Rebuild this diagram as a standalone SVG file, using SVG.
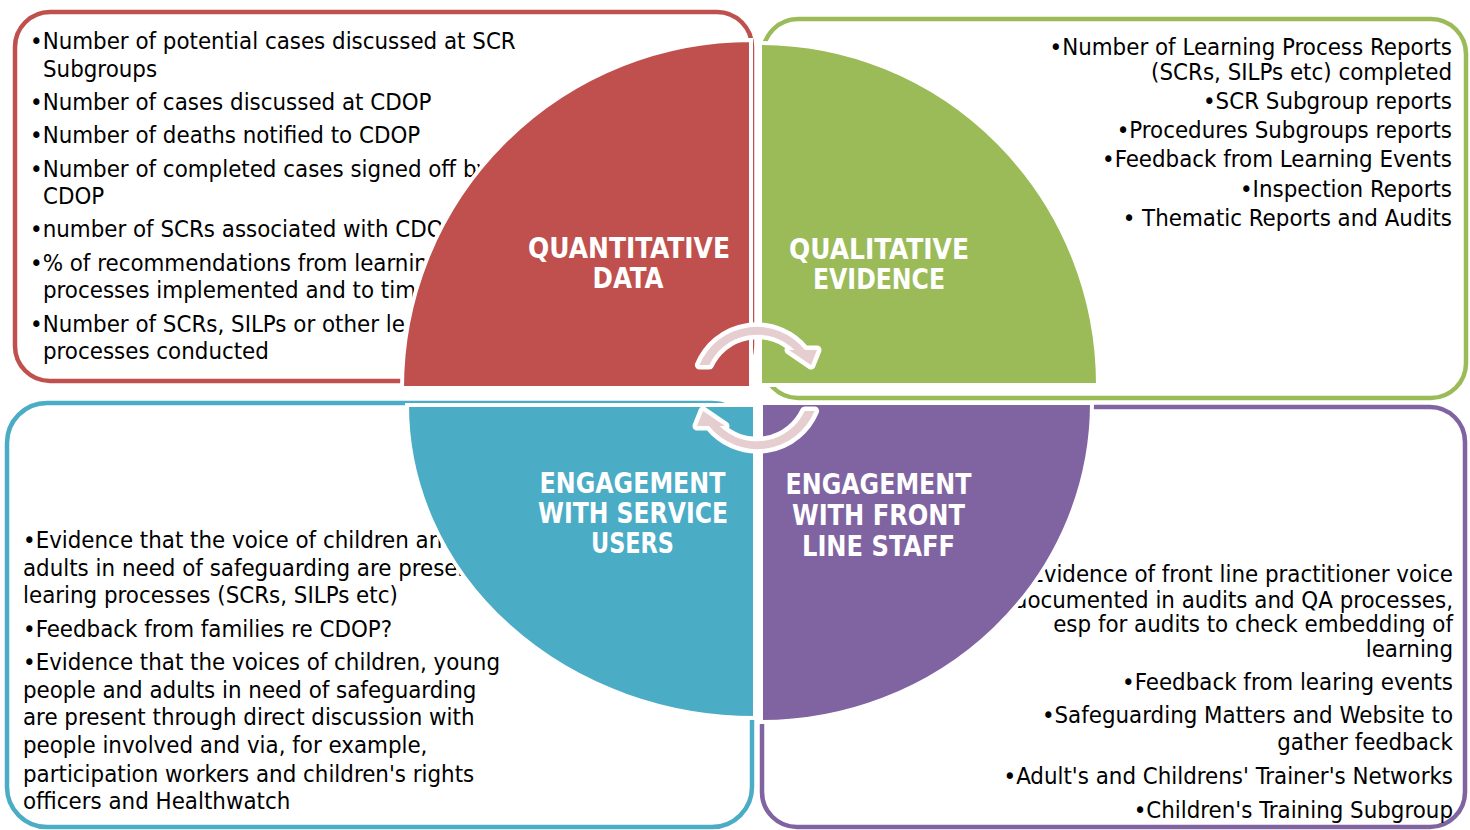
<svg xmlns="http://www.w3.org/2000/svg" width="1470" height="830" viewBox="0 0 1470 830">
<style>
.box{fill:#fff;stroke-width:4.5}
.body{font-family:'DejaVu Sans Condensed','DejaVu Sans',sans-serif;font-stretch:condensed;font-size:23.8px;fill:#000}
.end{text-anchor:end}
.head{font-family:'DejaVu Sans Condensed','DejaVu Sans',sans-serif;font-stretch:condensed;font-weight:bold;font-size:28px;fill:#fff;text-anchor:middle}
.q{stroke:#fff;stroke-width:4;stroke-linejoin:miter}
.arrow{fill:#E6CDD0;stroke:#fff;stroke-width:9;paint-order:stroke;stroke-linejoin:round}
</style>
<rect width="1470" height="830" fill="#fff"/>

<g id="node-quantitative">
  <rect class="box" x="15" y="12" width="737" height="369" rx="35" stroke="#C0504D"/>
  <g class="body">
    <text x="30" y="49">•Number of potential cases discussed at SCR</text>
    <text x="43" y="77">Subgroups</text>
    <text x="30" y="110">•Number of cases discussed at CDOP</text>
    <text x="30" y="143">•Number of deaths notified to CDOP</text>
    <text x="30" y="177">•Number of completed cases signed off by</text>
    <text x="43" y="204">CDOP</text>
    <text x="30" y="237">•number of SCRs associated with CDOP</text>
    <text x="30" y="271">•% of recommendations from learning</text>
    <text x="43" y="298">processes implemented and to timescale</text>
    <text x="30" y="332">•Number of SCRs, SILPs or other learning</text>
    <text x="43" y="359">processes conducted</text>
  </g>
  <path class="q" fill="#C0504D" d="M751 388 L402 388 A349 348 0 0 1 751 40 Z"/>
  <text class="head" x="629" y="258" textLength="202" lengthAdjust="spacingAndGlyphs">QUANTITATIVE</text>
  <text class="head" x="628" y="288" textLength="71" lengthAdjust="spacingAndGlyphs">DATA</text>
</g>

<g id="node-qualitative">
  <rect class="box" x="763" y="19" width="703" height="379" rx="35" stroke="#9BBB59"/>
  <g class="body end">
    <text x="1452" y="55">•Number of Learning Process Reports</text>
    <text x="1452" y="80">(SCRs, SILPs etc) completed</text>
    <text x="1452" y="109">•SCR Subgroup reports</text>
    <text x="1452" y="138">•Procedures Subgroups reports</text>
    <text x="1452" y="167">•Feedback from Learning Events</text>
    <text x="1452" y="197">•Inspection Reports</text>
    <text x="1452" y="226">• Thematic Reports and Audits</text>
  </g>
  <path class="q" fill="#9BBB59" d="M760 385 L760 43 A338 342 0 0 1 1098 385 Z"/>
  <text class="head" x="879" y="259" textLength="180" lengthAdjust="spacingAndGlyphs">QUALITATIVE</text>
  <text class="head" x="879" y="289" textLength="132" lengthAdjust="spacingAndGlyphs">EVIDENCE</text>
</g>

<g id="node-service-users">
  <rect class="box" x="7" y="403" width="745" height="424" rx="40" stroke="#4BACC6"/>
  <g class="body">
    <text x="23" y="548">•Evidence that the voice of children and</text>
    <text x="23" y="576">adults in need of safeguarding are present in</text>
    <text x="23" y="603">learing processes (SCRs, SILPs etc)</text>
    <text x="23" y="637">•Feedback from families re CDOP?</text>
    <text x="23" y="670">•Evidence that the voices of children, young</text>
    <text x="23" y="698">people and adults in need of safeguarding</text>
    <text x="23" y="725">are present through direct discussion with</text>
    <text x="23" y="753">people involved and via, for example,</text>
    <text x="23" y="782">participation workers and children's rights</text>
    <text x="23" y="809">officers and Healthwatch</text>
  </g>
  <path class="q" fill="#4BACC6" d="M755 405 L755 718 A348 313 0 0 1 407 405 Z"/>
  <text class="head" x="632.5" y="493" textLength="186" lengthAdjust="spacingAndGlyphs">ENGAGEMENT</text>
  <text class="head" x="633" y="523" textLength="190" lengthAdjust="spacingAndGlyphs">WITH SERVICE</text>
  <text class="head" x="632.5" y="553" textLength="83" lengthAdjust="spacingAndGlyphs">USERS</text>
</g>

<g id="node-front-line-staff">
  <rect class="box" x="762" y="407" width="703" height="420" rx="35" stroke="#8064A2"/>
  <g class="body end">
    <text x="1453" y="582">•Evidence of front line practitioner voice</text>
    <text x="1453" y="608">documented in audits and QA processes,</text>
    <text x="1453" y="632">esp for audits to check embedding of</text>
    <text x="1453" y="657">learning</text>
    <text x="1453" y="690">•Feedback from learing events</text>
    <text x="1453" y="723">•Safeguarding Matters and Website to</text>
    <text x="1453" y="750">gather feedback</text>
    <text x="1453" y="784">•Adult's and Childrens' Trainer's Networks</text>
    <text x="1453" y="818">•Children's Training Subgroup</text>
  </g>
  <path class="q" fill="#8064A2" d="M761 403 L1092 403 A331 319 0 0 1 761 722 Z"/>
  <text class="head" x="878.5" y="494" textLength="186" lengthAdjust="spacingAndGlyphs">ENGAGEMENT</text>
  <text class="head" x="878.5" y="525" textLength="173" lengthAdjust="spacingAndGlyphs">WITH FRONT</text>
  <text class="head" x="878.5" y="556" textLength="153" lengthAdjust="spacingAndGlyphs">LINE STAFF</text>
</g>

<g id="connectors">
  <path id="arrow-top" class="arrow" d="M699.4 365 A62 62 0 0 1 805 350 L817 350 L811 365 L789 350 L794.5 350 A53 53 0 0 0 709.3 365 Z"/>
  <path id="arrow-bottom" class="arrow" transform="rotate(180 757 388)" d="M699.4 365 A62 62 0 0 1 805 350 L817 350 L811 365 L789 350 L794.5 350 A53 53 0 0 0 709.3 365 Z"/>
</g>
</svg>
